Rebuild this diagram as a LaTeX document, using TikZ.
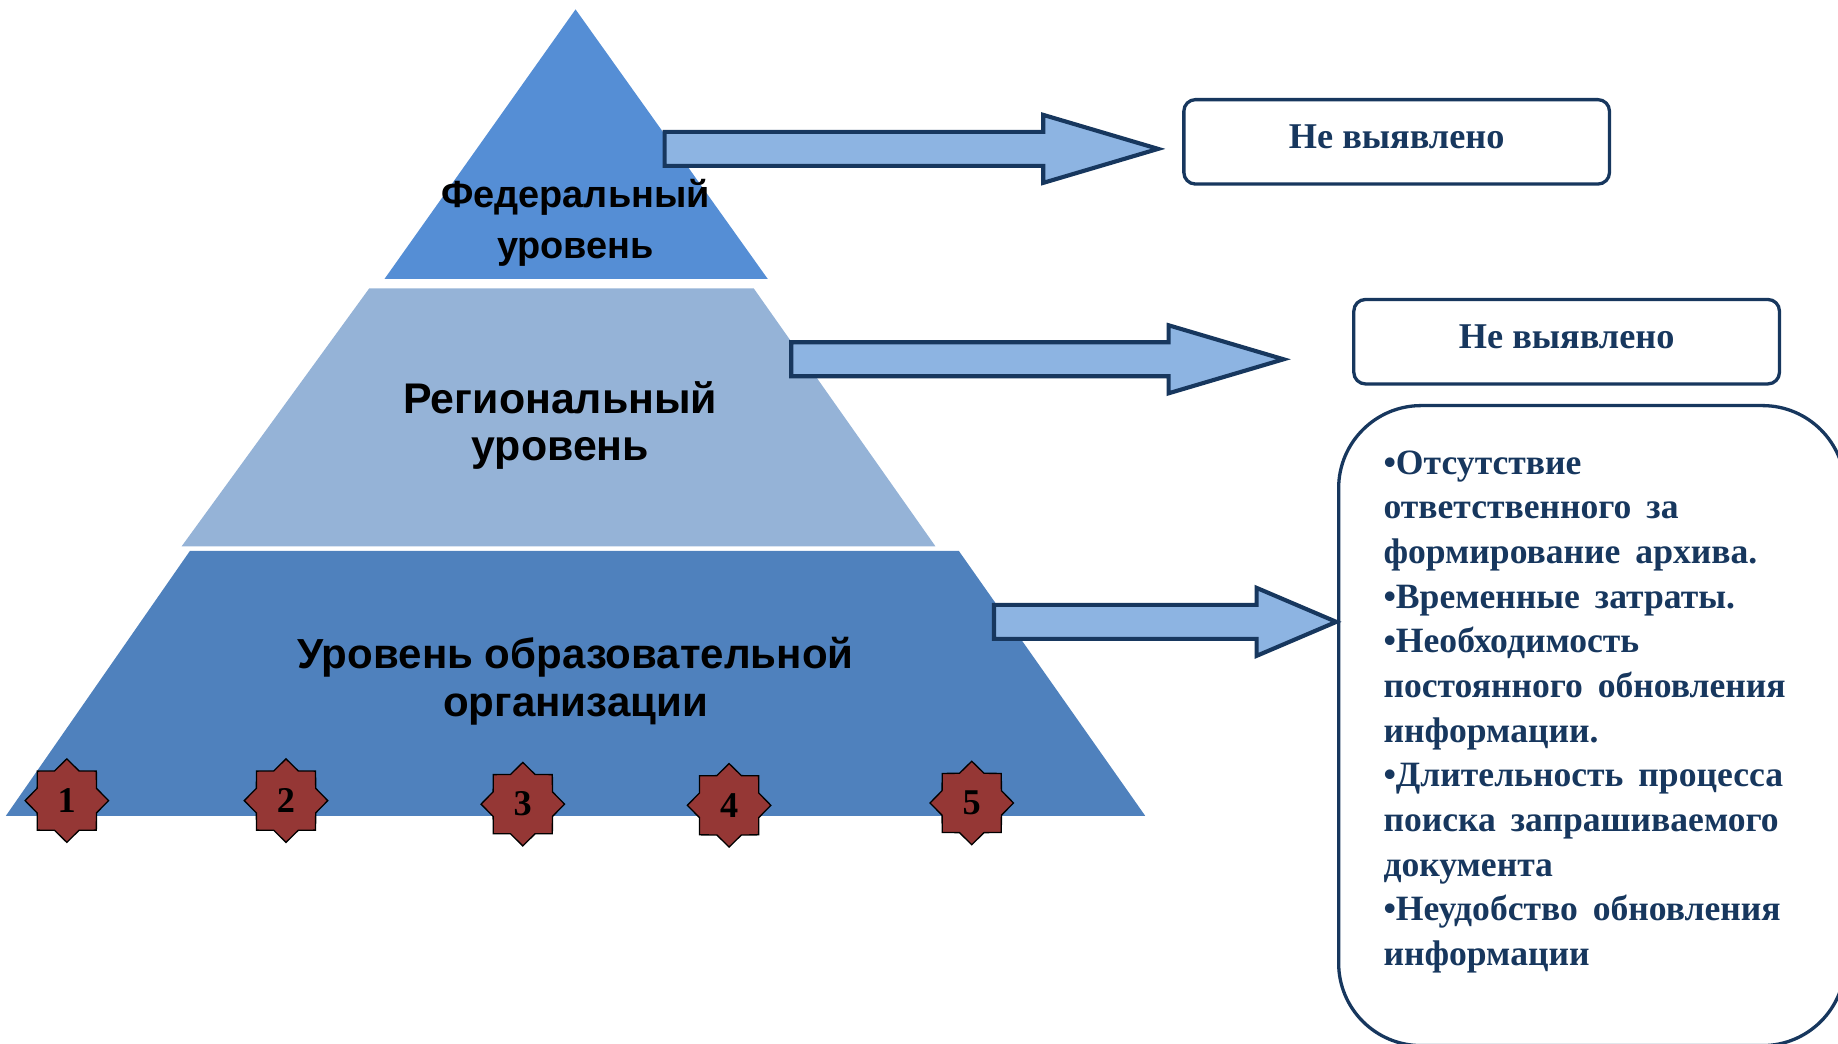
\documentclass[tikz,border=0pt]{standalone}
\usepackage{fontspec}
\setmainfont{Liberation Serif}
\setsansfont{Liberation Sans}
\usetikzlibrary{shapes.geometric}

\definecolor{topblue}{RGB}{85,142,213}
\definecolor{midblue}{RGB}{149,179,215}
\definecolor{lowblue}{RGB}{79,129,189}
\definecolor{arrowfill}{RGB}{141,180,226}
\definecolor{navy}{RGB}{23,55,94}
\definecolor{starred}{RGB}{149,55,53}

\newcommand\widespace{\spaceskip=0.42em plus 0.1em\relax}

\tikzset{
  level/.style={align=center, text=black},
  answer/.style={draw=navy, line width=2pt, rounded corners=7pt, fill=white,
    minimum width=9.075cm, minimum height=1.8cm, text=navy,
    text height=0.6cm, text depth=0.3cm,
    font=\bfseries\fontsize{22}{27}\selectfont},
  blockarrow/.style={draw=navy, line width=2.5pt, fill=arrowfill, line join=miter},
  numstar/.style={star, star points=8, star point ratio=1.3, minimum size=1.78cm,
    draw=black, thick, fill=starred, inner sep=0pt,
    font=\bfseries\fontsize{22}{22}\selectfont},
}

\begin{document}
\begin{tikzpicture}[x=0.025cm, y=-0.025cm]
    \useasboundingbox (0,0) rectangle (1568,890);
    % pyramid
    \fill[topblue] (491,8) -- (655,238) -- (328,238) -- cycle;
    \fill[midblue] (315,246) -- (643,246) -- (798,466) -- (155,466) -- cycle;
    \fill[lowblue] (162,470) -- (818,470) -- (977,696) -- (5,696) -- cycle;
    \node[level, font=\sffamily\bfseries\fontsize{23}{31}\selectfont] (fed) at (491,190) {Федеральный\\уровень};
    \node[level, font=\sffamily\bfseries\fontsize{26}{28}\selectfont] (reg) at (478,363) {Региональный\\уровень};
    \node[level, font=\sffamily\bfseries\fontsize{25.5}{29}\selectfont] (edu) at (491,581) {Уровень образовательной\\организации};
    % stars
    \foreach \n/\x/\y in {1/57/683, 2/244/683, 3/446/686, 4/622/687, 5/829/685}
        \node[numstar] (star\n) at (\x,\y) {\n};
    % arrows
    \foreach \xa/\xb/\xc/\ym in {567/890/988/127, 675/997/1095/306.5, 848/1072/1140/530.5}
        \draw[blockarrow] (\xa,\ym-14.5) -- (\xb,\ym-14.5) -- (\xb,\ym-29) -- (\xc,\ym)
            -- (\xb,\ym+29) -- (\xb,\ym+14.5) -- (\xa,\ym+14.5) -- cycle;
    % answers
    \node[answer] (fedbox) at (1191.5,121) {Не выявлено};
    \node[answer] (regbox) at (1336.5,291.5) {Не выявлено};
    \begin{scope}
        \clip (0,0) rectangle (1568,890);
        \draw[navy, line width=2pt, rounded corners=1.76cm] (1142,346) rectangle (1574,892);
    \end{scope}
    \node[anchor=north west, inner sep=0pt, align=left, text=navy,
        font=\bfseries\fontsize{21.6}{27.1}\selectfont\widespace] (edubox) at (1180,384)
        {•Отсутствие\\ответственного за\\формирование архива.\\•Временные затраты.\\•Необходимость\\постоянного обновления\\информации.\\•Длительность процесса\\поиска запрашиваемого\\документа\\•Неудобство обновления\\информации};
\end{tikzpicture}
\end{document}
